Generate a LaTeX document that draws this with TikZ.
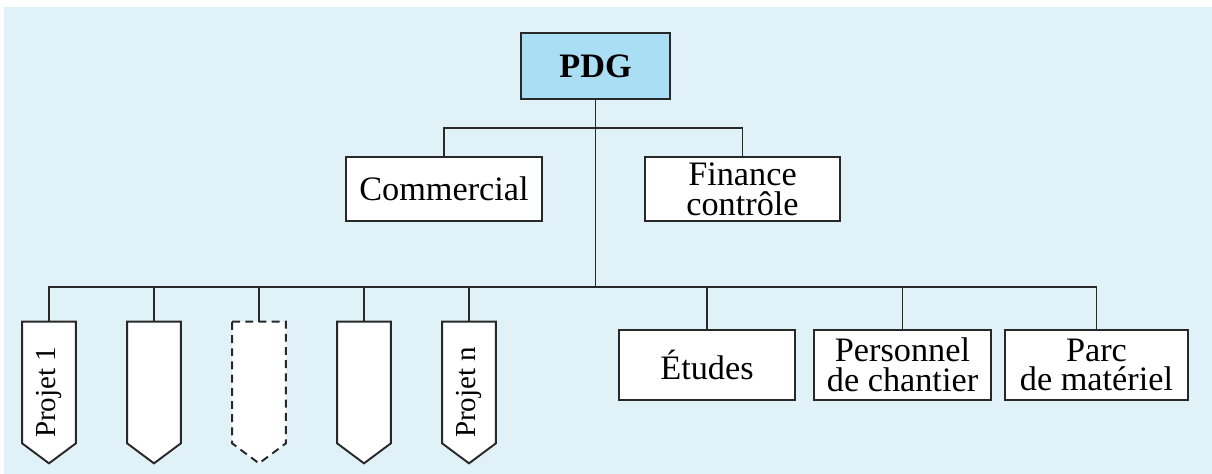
\documentclass[tikz,border=0pt]{standalone}
\usepackage{fontspec}
\setmainfont{Liberation Serif}
\usepackage {tikz}
\usetikzlibrary {positioning}
\definecolor{paleskyblue}{RGB}{224,241,248}
\definecolor{pdgblue}{RGB}{170,222,245}
\definecolor{linegray}{RGB}{40,40,40}
\pgfdeclarelayer{back}
\pgfdeclarelayer{shapes}
\pgfsetlayers{back,shapes,main}

\begin{document}
\begin{tikzpicture}[auto ,node distance = 2cm and 2cm ,on grid,
		box/.style={rectangle, fill=white, draw=linegray, line width=1.1pt, inner sep=0pt, align=center, font=\fontsize{19.5}{17}\selectfont},
		chief/.style={box, fill=pdgblue, minimum width=2.98cm, minimum height=1.32cm},
		dept/.style={box, minimum height=1.28cm},
		service/.style={box, minimum height=1.4cm},
		projet/.style={rectangle, inner sep=0pt, minimum width=1.06cm, minimum height=2.82cm, font=\fontsize{16.5}{18}\selectfont},
		pentagon/.style={fill=white, draw=linegray, line width=1.1pt},
		maybe/.style={dash pattern=on 4.5pt off 3pt},
		link/.style={draw=linegray, line width=0.85pt}]
			\useasboundingbox (-11.91,-8.16) rectangle (12.33,1.32);
			\begin{pgfonlayer}{back}
				\fill [paleskyblue] (-11.83,-8.16) rectangle (12.33,1.18);
			\end{pgfonlayer}
			\node [chief] (PDG) {\textbf{PDG}};
			\node [dept, minimum width=3.92cm] (Com) [below left=2.46cm and 3.03cm of PDG] {Commercial};
			\node [dept, minimum width=3.9cm] (Fin) [below right=2.46cm and 2.94cm of PDG] {Finance\\contrôle};
			\node [service, minimum width=3.52cm] (Etu) [below right=5.98cm and 2.23cm of PDG] {Études};
			\node [service, minimum width=3.54cm] (Pers) [right=3.91cm of Etu] {Personnel\\de chantier};
			\node [service, minimum width=3.66cm] (Parc) [right=3.88cm of Pers] {Parc\\de matériel};
			\node [projet] (P5) [below left=6.53cm and 2.53cm of PDG] {\rotatebox{90}{Projet n}};
			\node [projet] (P4) [left=2.1cm of P5] {};
			\node [projet] (P3) [left=2.1cm of P4] {};
			\node [projet] (P2) [left=2.1cm of P3] {};
			\node [projet] (P1) [left=2.1cm of P2] {\rotatebox{90}{Projet 1}};
			\coordinate [below=1.24cm of PDG] (J1);
			\coordinate [below=4.42cm of PDG] (J2);
			% project boxes with pointed ends
			\begin{pgfonlayer}{shapes}
				\foreach \n/\d in {P1/solid,P2/solid,P3/maybe,P4/solid,P5/solid}
					\draw [pentagon,\d] (\n.north west) -- (\n.north east) -- ([yshift=0.4cm]\n.south east)
						-- (\n.south) -- ([yshift=0.4cm]\n.south west) -- cycle;
			\end{pgfonlayer}
			\draw [link] (PDG) -- (J2);
			\draw [link] (Com) -- (Com |- J1) -- (Fin |- J1) -- (Fin);
			\draw [link] (P1) -- (P1 |- J2) -- (Parc |- J2) -- (Parc);
			\foreach \n in {P2,P3,P4,P5,Etu,Pers}
				\draw [link] (\n) -- (\n |- J2);
		\end{tikzpicture}
\end{document}
